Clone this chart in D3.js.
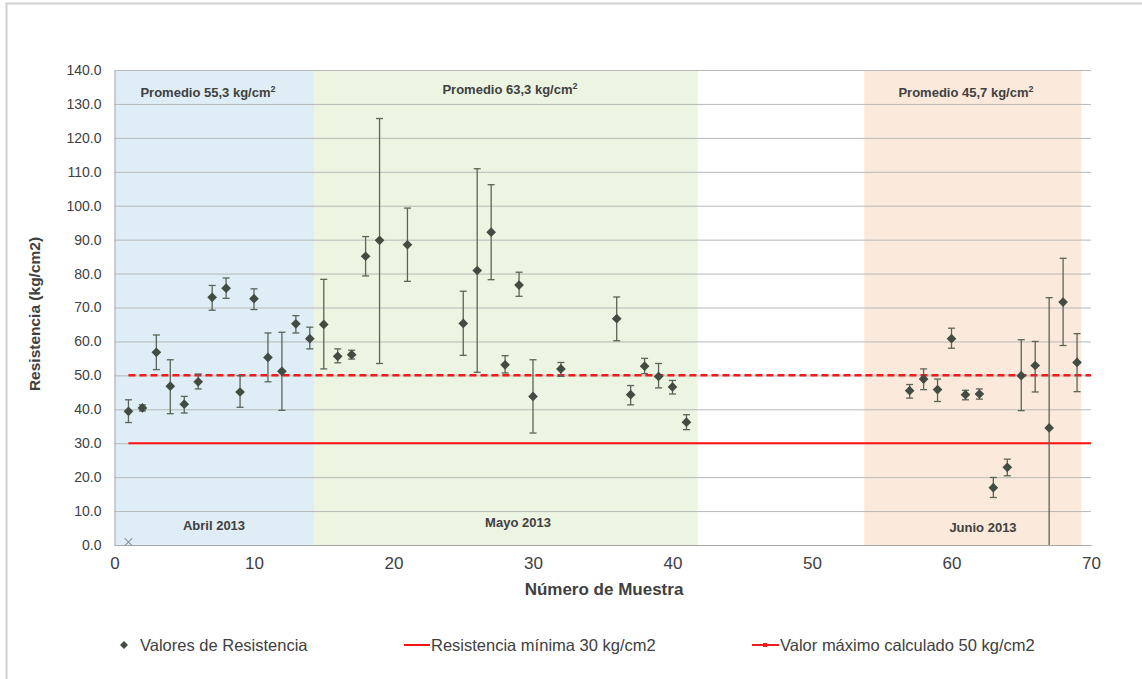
<!DOCTYPE html>
<html>
  <head>
    <meta charset="utf-8" />
    <title>Resistencia por muestra</title>
    <style>
      body { margin: 0; background: #fff; }
      svg text { font-family: "Liberation Sans", Arial, sans-serif; fill: #404040; }
      .narrow { font-family: "Liberation Sans Narrow", "Arial Narrow", sans-serif; }
    </style>
  </head>
  <body>
    <svg width="1142" height="679"></svg>

    <script src="https://d3js.org/d3.v7.min.js"></script>
    <script>
      // sample number, measured value and error bar ends
      const muestra = [1, 2, 3, 4, 5, 6, 7, 8, 9, 10, 11, 12, 13, 14,
        15, 16, 17, 18, 19, 21, 25, 26, 27, 28, 29, 30, 32, 36, 37, 38, 39, 40, 41,
        57, 58, 59, 60, 61, 62, 63, 64, 65, 66, 67, 68, 69];
      const resistencia = [39.4, 40.4, 56.8, 46.8, 41.5, 48.1, 73.0, 75.7, 45.1, 72.6, 55.3, 51.2, 65.2, 60.8,
        65.0, 55.6, 56.1, 85.1, 89.8, 88.5, 65.3, 80.9, 92.2, 53.1, 76.6, 43.8, 51.9, 66.7, 44.3, 52.7, 49.7, 46.6, 36.2,
        45.5, 48.9, 45.8, 60.8, 44.3, 44.5, 16.9, 22.9, 49.9, 52.9, 34.5, 71.6, 53.8];
      const errSup = [42.8, 41.3, 61.9, 54.6, 43.8, 50.4, 76.5, 78.7, 49.9, 75.5, 62.5, 62.7, 67.6, 64.2,
        78.3, 57.8, 57.4, 90.9, 125.7, 99.3, 74.8, 110.9, 106.2, 55.8, 80.4, 54.6, 53.8, 73.1, 47.0, 55.0, 53.5, 48.5, 38.4,
        47.3, 51.9, 48.9, 63.9, 45.6, 46.0, 19.9, 25.3, 60.5, 60.0, 72.9, 84.5, 62.3];
      const errInf = [36.1, 39.5, 51.7, 38.7, 38.9, 46.0, 69.2, 72.7, 40.6, 69.4, 48.1, 39.7, 62.5, 57.8,
        51.9, 53.7, 54.8, 79.3, 53.5, 77.7, 55.9, 50.9, 78.2, 50.7, 73.3, 33.0, 49.7, 60.2, 41.3, 50.5, 46.3, 44.5, 34.0,
        43.3, 45.8, 42.3, 58.0, 42.8, 43.0, 14.0, 20.4, 39.6, 45.1, 0.0, 58.8, 45.2];

      // stray point on the axis
      const extraX = [1];
      const extraY = [0];

      // month bands
      const meses = ["Abril 2013", "Mayo 2013", "Junio 2013"];
      const mesInicio = [0, 14.3, 53.75];
      const mesFin = [14.3, 41.8, 69.3];
      const promedios = ["55,3", "63,3", "45,7"];
      const mesColor = ["#dfeef6", "#ecf4e2", "#fbeadb"];

      // reference lines
      const limiteMin = 30;
      const limiteMax = 50;
      const lineaDesde = 1, lineaHasta = 70;

      const yTicks = d3.range(0, 141, 10);
      const xTicks = d3.range(0, 71, 10);

      const svg = d3.select("svg");

      // outer frame (left and top edges only)
      svg.append("path")
        .attr("d", "M6.5,679V3.5H1142")
        .attr("fill", "none")
        .attr("stroke", "#d0d0d0")
        .attr("stroke-width", 2);

      const x = d3.scaleLinear().domain([0, 70]).range([114.5, 1091]);
      const y = d3.scaleLinear().domain([0, 140]).range([545, 70]);

      // bands
      svg.selectAll(".band")
        .data(meses)
        .enter().append("rect")
        .attr("x", (d, i) => x(mesInicio[i]))
        .attr("width", (d, i) => x(mesFin[i]) - x(mesInicio[i]))
        .attr("y", y(140))
        .attr("height", y(0) - y(140))
        .attr("fill", (d, i) => mesColor[i]);

      // gridlines
      svg.append("g")
        .attr("transform", `translate(${x(0)},0)`)
        .call(d3.axisLeft(y).tickValues(yTicks).tickSize(-(x(70) - x(0))).tickFormat(""))
        .call(g => g.select(".domain").remove())
        .call(g => g.selectAll("line").attr("stroke", "#b8b8b8"));

      // y labels
      svg.append("g")
        .attr("transform", `translate(${x(0)},0)`)
        .call(d3.axisLeft(y).tickValues(yTicks).tickSize(0).tickPadding(13).tickFormat(d3.format(".1f")))
        .call(g => g.select(".domain").attr("stroke", "#a8a8a8"))
        .call(g => g.selectAll("text").attr("font-size", 14).attr("fill", "#404040")
          .style("font-family", "'Liberation Sans', Arial, sans-serif"));

      // x axis
      svg.append("g")
        .attr("transform", `translate(0,${y(0)})`)
        .call(d3.axisBottom(x).tickValues(xTicks).tickSize(0).tickPadding(12).tickFormat(d3.format("d")))
        .call(g => g.select(".domain").attr("stroke", "#a8a8a8"))
        .call(g => g.selectAll("text").attr("class", "narrow").attr("font-size", 17).attr("fill", "#404040"));

      // band labels
      const promX = [208, 510, 966];
      const prom = svg.selectAll(".prom")
        .data(meses)
        .enter().append("text")
        .attr("x", (d, i) => promX[i])
        .attr("y", (d, i) => i === 1 ? 94 : 97)
        .attr("text-anchor", "middle")
        .attr("font-size", 13)
        .attr("font-weight", "bold");
      prom.append("tspan").text((d, i) => `Promedio ${promedios[i]} kg/cm`);
      prom.append("tspan").attr("dy", -5).attr("font-size", 9).text("2");

      const mesX = [214, 518, 983];
      svg.selectAll(".mes")
        .data(meses)
        .enter().append("text")
        .attr("x", (d, i) => mesX[i])
        .attr("y", (d, i) => [530, 527, 532][i])
        .attr("text-anchor", "middle")
        .attr("font-size", 13)
        .attr("font-weight", "bold")
        .text(d => d);

      // reference lines
      svg.append("line")
        .attr("x1", x(lineaDesde)).attr("x2", x(lineaHasta))
        .attr("y1", y(limiteMin)).attr("y2", y(limiteMin))
        .attr("stroke", "#ff1010").attr("stroke-width", 2);
      svg.append("line")
        .attr("x1", x(lineaDesde)).attr("x2", x(lineaHasta))
        .attr("y1", y(limiteMax)).attr("y2", y(limiteMax))
        .attr("stroke", "#ee1c1c").attr("stroke-width", 2.5)
        .attr("stroke-dasharray", "7,4");

      // error bars (bound to the index so the arrays line up)
      const errColor = "#5b6458";
      const idx = d3.range(muestra.length);
      const eb = svg.append("g").selectAll("g")
        .data(idx)
        .enter().append("g");
      eb.append("line")
        .attr("x1", i => x(muestra[i])).attr("x2", i => x(muestra[i]))
        .attr("y1", i => y(errSup[i])).attr("y2", i => y(errInf[i]))
        .attr("stroke", errColor).attr("stroke-width", 1.3);
      eb.append("line")
        .attr("x1", i => x(muestra[i]) - 3.5).attr("x2", i => x(muestra[i]) + 3.5)
        .attr("y1", i => y(errSup[i])).attr("y2", i => y(errSup[i]))
        .attr("stroke", errColor).attr("stroke-width", 1.3);
      eb.filter(i => errInf[i] > 0).append("line")
        .attr("x1", i => x(muestra[i]) - 3.5).attr("x2", i => x(muestra[i]) + 3.5)
        .attr("y1", i => y(errInf[i])).attr("y2", i => y(errInf[i]))
        .attr("stroke", errColor).attr("stroke-width", 1.3);

      // diamonds
      const diamond = d3.symbol().type(d3.symbolDiamond2).size(60);
      svg.append("g").selectAll("path")
        .data(idx)
        .enter().append("path")
        .attr("d", diamond)
        .attr("transform", i => `translate(${x(muestra[i])},${y(resistencia[i])})`)
        .attr("fill", "#434c42");

      // stray cross
      svg.append("g").selectAll("path")
        .data(extraX)
        .enter().append("path")
        .attr("d", d3.symbol().type(d3.symbolX).size(40))
        .attr("transform", (d, i) => `translate(${x(d)},${y(extraY[i]) - 3})`)
        .attr("fill", "none")
        .attr("stroke", "#8a9aa8")
        .attr("stroke-width", 1.2);

      // axis titles
      svg.append("text")
        .attr("class", "narrow")
        .attr("x", 604).attr("y", 595)
        .attr("text-anchor", "middle")
        .attr("font-size", 17)
        .attr("font-weight", "bold")
        .attr("fill", "#262626")
        .text("Número de Muestra");

      svg.append("text")
        .attr("transform", "translate(40,314) rotate(-90)")
        .attr("text-anchor", "middle")
        .attr("font-size", 15.5)
        .attr("font-weight", "bold")
        .attr("fill", "#262626")
        .text("Resistencia (kg/cm2)");

      // legend
      const leg = svg.append("g").attr("class", "narrow");
      leg.append("path")
        .attr("d", d3.symbol().type(d3.symbolDiamond2).size(40))
        .attr("transform", "translate(124,645)")
        .attr("fill", "#434c42");
      leg.append("text").attr("class", "narrow").attr("x", 140).attr("y", 651)
        .attr("font-size", 16.5).text("Valores de Resistencia");

      leg.append("line").attr("x1", 404).attr("x2", 430).attr("y1", 645).attr("y2", 645)
        .attr("stroke", "#ff1010").attr("stroke-width", 2);
      leg.append("text").attr("class", "narrow").attr("x", 431).attr("y", 651)
        .attr("font-size", 16.5).text("Resistencia mínima 30 kg/cm2");

      leg.append("line").attr("x1", 752).attr("x2", 779).attr("y1", 645).attr("y2", 645)
        .attr("stroke", "#ee1c1c").attr("stroke-width", 2);
      leg.append("rect").attr("x", 763).attr("y", 643).attr("width", 4).attr("height", 4)
        .attr("fill", "#ee1c1c");
      leg.append("text").attr("class", "narrow").attr("x", 780).attr("y", 651)
        .attr("font-size", 16.5).text("Valor máximo calculado 50 kg/cm2");
    </script>
  </body>
</html>
